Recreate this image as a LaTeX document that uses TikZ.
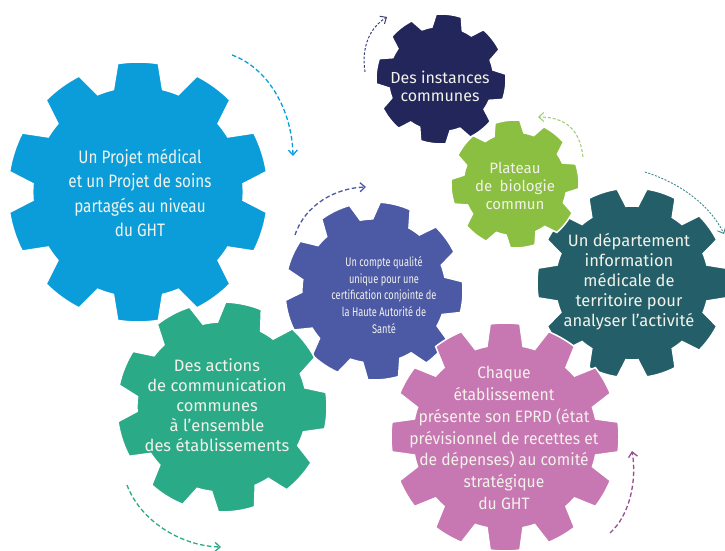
\documentclass[tikz,border=0pt]{standalone}
\usepackage{fontspec}
\setmainfont{Fira Sans}
\newfontfamily\condfont[FakeStretch=0.85]{Fira Sans}
\newfontfamily\narrowfont[FakeStretch=0.74]{Fira Sans}
\newfontfamily\semifont[FakeStretch=0.95]{Fira Sans}
\usetikzlibrary{arrows.meta}
\definecolor{gblue}{HTML}{0A9DDA}
\definecolor{gnavy}{HTML}{22265A}
\definecolor{ggreen}{HTML}{8BBF41}
\definecolor{gteal}{HTML}{245F69}
\definecolor{gindigo}{HTML}{4C59A5}
\definecolor{gmint}{HTML}{2BAA88}
\definecolor{gpink}{HTML}{C777B1}
\definecolor{txtcol}{HTML}{F2F2EA}
\definecolor{apink}{HTML}{94508F}
\definecolor{anavy}{HTML}{3A3F73}
\definecolor{agreen}{HTML}{9CCB6A}
\definecolor{ateal}{HTML}{3D8A87}
% #1 cx, #2 cy, #3 outer radius, #4 angle of first tooth, #5 number of teeth, #6 colour
\newcommand{\drawgear}[6]{%
 \begin{scope}[shift={(#1,#2)}]
  \pgfmathsetmacro{\gR}{#3}
  \pgfmathsetmacro{\gr}{0.81*#3}
  \pgfmathsetmacro{\gP}{360/#5}
  \pgfmathsetmacro{\ga}{0.25*\gP}
  \pgfmathsetmacro{\gb}{0.375*\gP}
  \pgfmathsetmacro{\gh}{0.5*\gP}
  \pgfmathtruncatemacro{\gN}{#5-1}
  \fill[#6, draw=white, line width=1.5pt] ({#4-\gh}:\gr pt) \foreach \k in {0,...,\gN}{
     arc[start angle={#4+\gP*\k-\gh}, end angle={#4+\gP*\k-\gb}, radius=\gr pt]
     -- ({#4+\gP*\k-\ga}:\gR pt)
     arc[start angle={#4+\gP*\k-\ga}, end angle={#4+\gP*\k+\ga}, radius=\gR pt]
     -- ({#4+\gP*\k+\gb}:\gr pt)
     arc[start angle={#4+\gP*\k+\gb}, end angle={#4+\gP*\k+\gh}, radius=\gr pt]
  } -- cycle;
 \end{scope}}
\tikzset{
  x=1pt, y=-1pt,
  gtext/.style={text=txtcol, align=center, inner sep=0pt},
  darrow/.style={line width=1.3pt, dash pattern=on 4.5pt off 2.5pt, -{Straight Barb[length=5pt,width=9pt]}},
}
\begin{document}
\begin{tikzpicture}
\useasboundingbox (0,0) rectangle (725,551);
% gears
\drawgear{441}{79}{65}{83}{8}{gnavy}
\drawgear{138}{192}{130}{90}{10}{gblue}
\drawgear{632}{283}{95}{72}{10}{gteal}
\drawgear{515}{184}{64}{97}{8}{ggreen}
\drawgear{374}{291}{89}{76}{9}{gindigo}
\drawgear{222}{407}{105}{78}{9}{gmint}
\drawgear{505}{437}{114}{90}{12}{gpink}
% texts
\node[gtext, font=\condfont\fontsize{18}{24.5}\selectfont] (tblue) at (140,193)
  {Un Projet médical\\et un Projet de soins\\partagés au niveau\\du GHT};
\node[gtext, font=\fontsize{16}{18}\selectfont] (tnavy) at (440,86)
  {Des instances\\communes};
\node[gtext, font=\fontsize{15}{18}\selectfont] (tgreen) at (515,186)
  {Plateau\\de\enspace biologie\\commun};
\node[gtext, font=\fontsize{16.5}{20}\selectfont] (tteal) at (629,282)
  {Un département\\information\\médicale de\\territoire pour\\analyser l’activité};
\node[gtext, font=\narrowfont\fontsize{12.5}{16.7}\selectfont] (tindigo) at (384,295)
  {Un compte qualité\\unique pour une\\certification conjointe de\\la Haute Autorité de\\Santé};
\node[gtext, font=\fontsize{16.5}{20}\selectfont] (tmint) at (217,405)
  {Des actions\\de communication\\communes\\à l’ensemble\\des établissements};
\node[gtext, font=\semifont\fontsize{16.5}{21.7}\selectfont] (tpink) at (504,438)
  {Chaque\\établissement\\présente son EPRD (état\\prévisionnel de recettes et\\de dépenses) au comité\\stratégique\\du GHT};
% arrow end points
\coordinate (a1s) at (232,55);  \coordinate (a1e) at (293,156);
\coordinate (a2s) at (365,72);  \coordinate (a2e) at (387,17);
\coordinate (a3s) at (583,157); \coordinate (a3e) at (538,117);
\coordinate (a4s) at (645,172); \coordinate (a4e) at (724,234);
\coordinate (a5s) at (295,235); \coordinate (a5e) at (366,187);
\coordinate (a6s) at (127,485); \coordinate (a6e) at (221,547);
\coordinate (a7s) at (610,533); \coordinate (a7e) at (632,451);
% arrows
\draw[darrow, gblue] (a1s) .. controls (268,68) and (292,110) .. (a1e);
\draw[darrow, anavy, line width=1pt, dash pattern=on 2.5pt off 1.8pt] (a2s) .. controls (361,45) and (371,27) .. (a2e);
\draw[darrow, agreen, line width=1pt, dash pattern=on 3pt off 2pt] (a3s) .. controls (580,130) and (566,117) .. (a3e);
\draw[darrow, ateal, line width=0.9pt, dash pattern=on 2pt off 1.5pt] (a4s) .. controls (680,183) and (710,205) .. (a4e);
\draw[darrow, gindigo] (a5s) .. controls (305,205) and (335,188) .. (a5e);
\draw[darrow, gmint] (a6s) .. controls (140,520) and (180,546) .. (a6e);
\draw[darrow, apink] (a7s) .. controls (630,515) and (637,480) .. (a7e);
\end{tikzpicture}
\end{document}
